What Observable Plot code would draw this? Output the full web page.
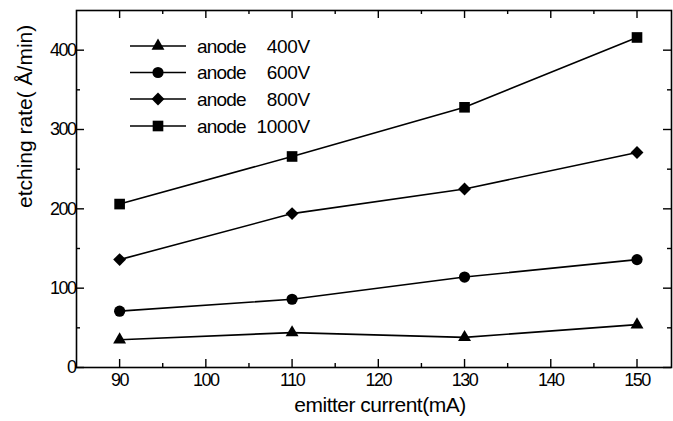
<!DOCTYPE html>
<html>
<head>
<meta charset="utf-8">
<script src="https://cdn.jsdelivr.net/npm/d3@7"></script>
<script src="https://cdn.jsdelivr.net/npm/@observablehq/plot@0.6"></script>
<style>
  html, body { margin: 0; padding: 0; background: #fff; }
  #chart svg { display: block; }
</style>
</head>
<body>
<div id="chart"></div>
<script>
// ---- data ----
const current = [90, 110, 130, 150];            // emitter current (mA)
const seriesNames = ["anode  400V", "anode  600V", "anode  800V", "anode 1000V"];
const seriesVolt = ["400V", "600V", "800V", "1000V"];
const seriesSymbols = ["triangle", "circle", "diamond2", "square"];
const seriesRadius = [4.8, 5.6, 5.8, 6.0];
const rate400 = [35, 44, 38, 54];
const rate600 = [71, 86, 114, 136];
const rate800 = [136, 194, 225, 271];
const rate1000 = [206, 266, 328, 416];
const xTicks = [90, 100, 110, 120, 130, 140, 150];
const xMinorTicks = [95, 105, 115, 125, 135, 145];
const yTicks = [0, 100, 200, 300, 400];
const yMinorTicks = [50, 150, 250, 350];
const xTitle = "emitter current(mA)";
const yTitle = "etching rate( Å/min)";

const rates = [rate400, rate600, rate800, rate1000];
const table = rates.flatMap((vals, i) =>
  vals.map((v, j) => ({series: seriesNames[i], current: current[j], rate: v})));

// ---- layout ----
const width = 673, height = 421;
const mL = 76, mR = 2, mT = 10, mB = 54;
const W = width - mL - mR, H = height - mT - mB;
const major = 8, minor = 4;
const font = "'Liberation Sans', Arial, sans-serif";

const marks = [
  Plot.frame({stroke: "black", strokeWidth: 1.6}),
  // inward ticks, Origin style
  Plot.ruleX(xTicks, {insetTop: H - major, stroke: "black", strokeWidth: 1.4}),
  Plot.ruleX(xTicks, {insetBottom: H - major, stroke: "black", strokeWidth: 1.4}),
  Plot.ruleX(xMinorTicks, {insetTop: H - minor, stroke: "black", strokeWidth: 1.4}),
  Plot.ruleX(xMinorTicks, {insetBottom: H - minor, stroke: "black", strokeWidth: 1.4}),
  Plot.ruleY(yTicks, {insetRight: W - major, stroke: "black", strokeWidth: 1.4}),
  Plot.ruleY(yTicks, {insetLeft: W - major, stroke: "black", strokeWidth: 1.4}),
  Plot.ruleY(yMinorTicks, {insetRight: W - minor, stroke: "black", strokeWidth: 1.4}),
  Plot.ruleY(yMinorTicks, {insetLeft: W - minor, stroke: "black", strokeWidth: 1.4}),
  Plot.axisX({ticks: xTicks, tickSize: 0, tickPadding: 6, fontSize: 18, label: null}),
  Plot.axisY({ticks: yTicks, tickSize: 0, tickPadding: 1, fontSize: 18, label: null}),
  Plot.text([xTitle], {text: d => d, frameAnchor: "bottom", lineAnchor: "top",
    dx: 6, dy: 30, fontSize: 21, fill: "black"}),
  Plot.text([yTitle], {text: d => d, frameAnchor: "left", lineAnchor: "middle", rotate: -90,
    dx: -51, dy: 19, fontSize: 21, fill: "black"}),
  Plot.line(table, {x: "current", y: "rate", z: "series", stroke: "black", strokeWidth: 1.6}),
  ...seriesNames.map((name, i) =>
    Plot.dot(table.filter(d => d.series === name),
      {x: "current", y: "rate", symbol: () => seriesSymbols[i], r: seriesRadius[i], fill: "black", stroke: "none"}))
];

const chart = Plot.plot({
  width, height,
  marginLeft: mL, marginRight: mR, marginTop: mT, marginBottom: mB,
  style: {fontFamily: font, fontSize: "19px", color: "black", background: "white"},
  x: {domain: [85, 154]},
  y: {domain: [0, 450]},
  symbol: {type: "identity"},
  marks
});

const svg = d3.select(chart);
// condensed tick digits, as in the scanned original
svg.selectAll("text").filter(function () { return /^\d+$/.test(this.textContent.trim()); })
  .attr("letter-spacing", "-1.5");
svg.selectAll("text").filter(function () { return this.textContent === xTitle; })
  .attr("letter-spacing", "-0.5");

// ---- legend (inside the frame, top-left) ----
const leg = svg.append("g").attr("font-family", font).attr("font-size", 19)
  .attr("fill", "black").attr("text-anchor", "start");
const rowY = [46, 72.5, 99, 126];
const symMap = {triangle: d3.symbolTriangle, circle: d3.symbolCircle, diamond2: d3.symbolDiamond2, square: d3.symbolSquare};
seriesNames.forEach((name, i) => {
  const g = leg.append("g").attr("transform", `translate(0,${rowY[i]})`);
  g.append("line").attr("x1", 130).attr("x2", 186).attr("y1", 0).attr("y2", 0)
    .attr("stroke", "black").attr("stroke-width", 1.6);
  const r = seriesRadius[i];
  g.append("path").attr("transform", "translate(158,0)")
    .attr("d", d3.symbol(symMap[seriesSymbols[i]], Math.PI * r * r)());
  g.append("text").attr("x", 197).attr("dy", "0.35em").attr("text-anchor", "start")
    .attr("letter-spacing", "-0.8").text("anode");
  g.append("text").attr("x", 310).attr("dy", "0.35em").attr("text-anchor", "end")
    .attr("letter-spacing", "-0.3").text(seriesVolt[i]);
});

document.getElementById("chart").appendChild(chart);
</script>
</body>
</html>
